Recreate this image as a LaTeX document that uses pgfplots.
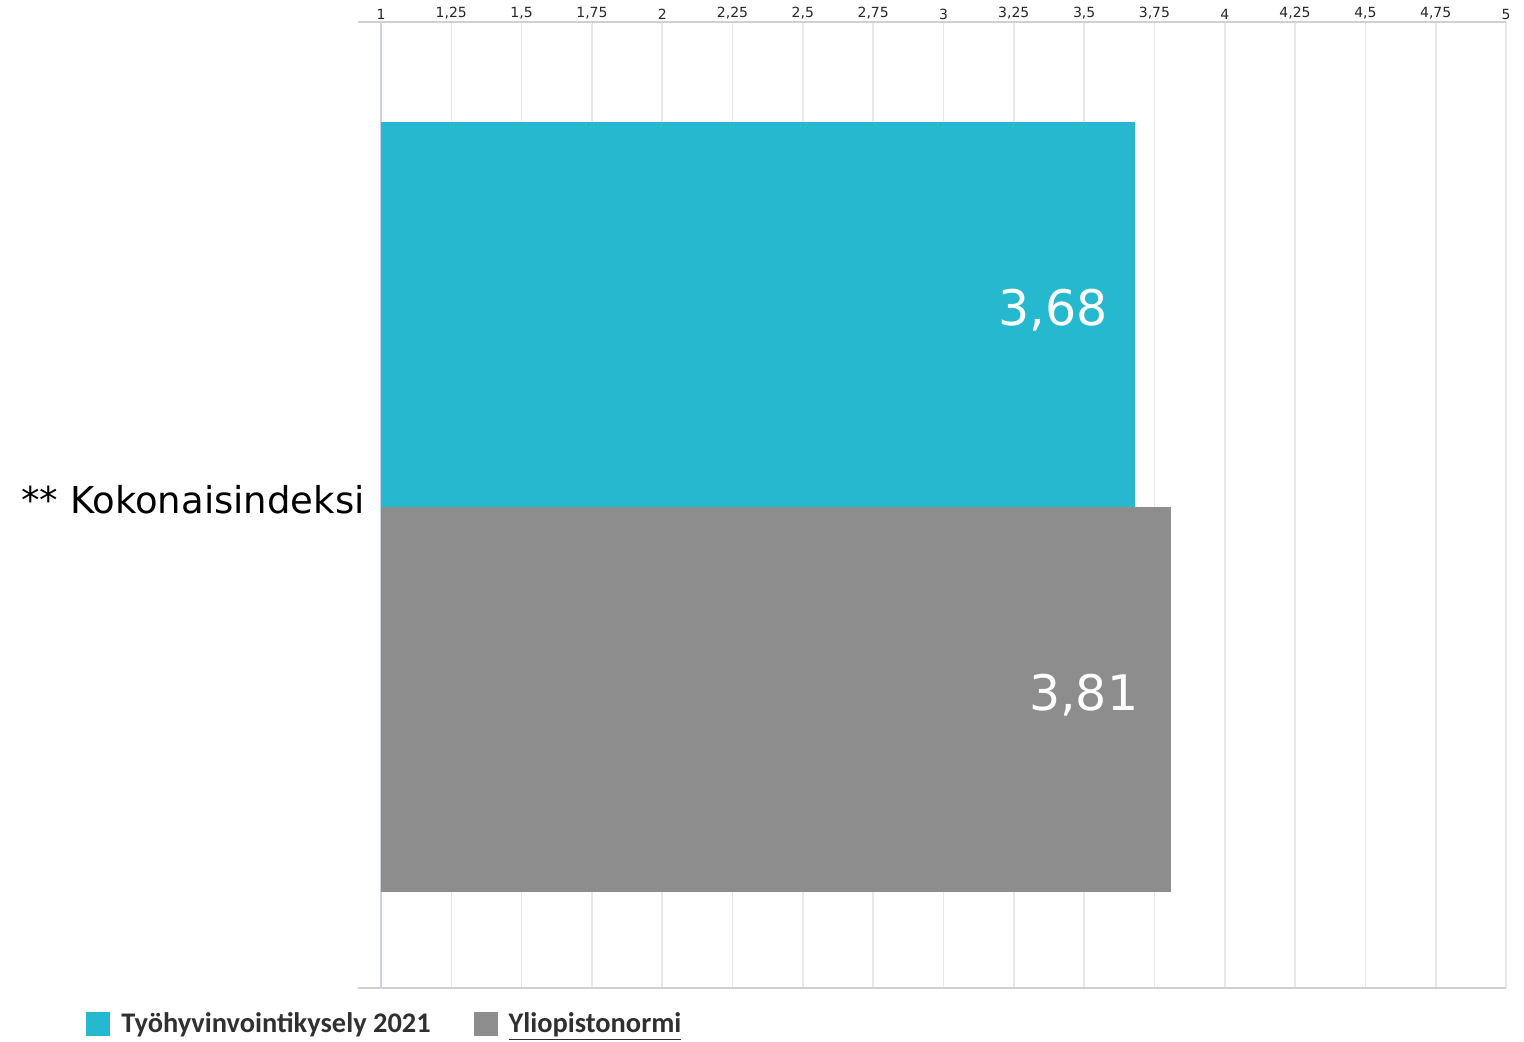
\documentclass[border=0pt]{standalone}
\usepackage{pgfplots}
\pgfplotsset{compat=1.18}
\usepackage{fontspec}
\setmainfont{DejaVu Sans}
\newfontfamily\legendfont{Carlito}
\definecolor{survey}{HTML}{25B8CF}
\definecolor{norm}{HTML}{8D8D8D}
\definecolor{gridc}{HTML}{E8E8EC}
\definecolor{framec}{HTML}{D0D0D0}
\definecolor{basec}{HTML}{CBD2E8}
\definecolor{legtext}{HTML}{303030}
\begin{document}
\begin{tikzpicture}
\begin{axis}[
  name=ax,
  scale only axis, width=562.5pt, height=483pt,
  xmin=1, xmax=5, ymin=0, ymax=9.66,
  xbar, bar width=3.85, bar shift=0pt,
  axis line style={draw=none},
  major tick length=0pt,
  xtick={1,1.25,...,5},
  xticklabel pos=upper,
  xmajorgrids, grid style={gridc, line width=0.8pt},
  extra x ticks={1}, extra x tick labels={},
  extra x tick style={grid style={basec, line width=0.8pt}},
  /pgf/number format/.cd, use comma, 1000 sep={}, /pgfplots/.cd,
  /pgf/number format/assume math mode=true,
  xticklabel style={font=\fontsize{7}{8}\selectfont, inner sep=0pt, yshift=1pt, text=black!85},
  ytick={4.815}, yticklabels={** Kokonaisindeksi},
  yticklabel style={font=\fontsize{18.5}{20}\selectfont, inner sep=0pt, xshift=-8pt, yshift=3.5pt},
  nodes near coords={\pgfmathprintnumber[fixed,fixed zerofill,precision=2,use comma]{\pgfplotspointmeta}},
  point meta=x,
  every node near coord/.append style={anchor=east, yshift=2pt, text=white, font=\fontsize{24.5}{26}\selectfont},
  legend columns=2,
  legend style={draw=none, fill=none, at={(-0.2622,-0.0373)}, anchor=west,
    inner sep=0pt, text=legtext, font=\legendfont\bfseries\fontsize{14.2}{16}\selectfont,
    /tikz/every even column/.append style={column sep=16pt},
    nodes={inner xsep=5.5pt}},
]
\addplot[draw=none, fill=survey,
  every node near coord/.append style={xshift=-10pt},
  legend image code/.code={\fill[survey] (0pt,-6pt) rectangle (12pt,6pt);}]
  coordinates {(3.68,6.74)};
\addlegendentry{Työhyvinvointikysely 2021}
\addplot[draw=none, fill=norm,
  every node near coord/.append style={xshift=-13pt},
  legend image code/.code={\fill[norm] (0pt,-6pt) rectangle (12pt,6pt);}]
  coordinates {(3.81,2.89)};
\addlegendentry{\underline{Yliopistonormi}}
\end{axis}
% frame lines above and below the plot area
\draw[framec, line width=0.8pt] ([xshift=-11.5pt]ax.south west) -- (ax.south east);
\draw[framec, line width=0.8pt] ([xshift=-11.5pt]ax.north west) -- (ax.north east);
\pgfresetboundingbox
\useasboundingbox ([xshift=-190.5pt, yshift=-26.5pt]ax.south west) rectangle ++(762pt,520.5pt);
\end{tikzpicture}
\end{document}
